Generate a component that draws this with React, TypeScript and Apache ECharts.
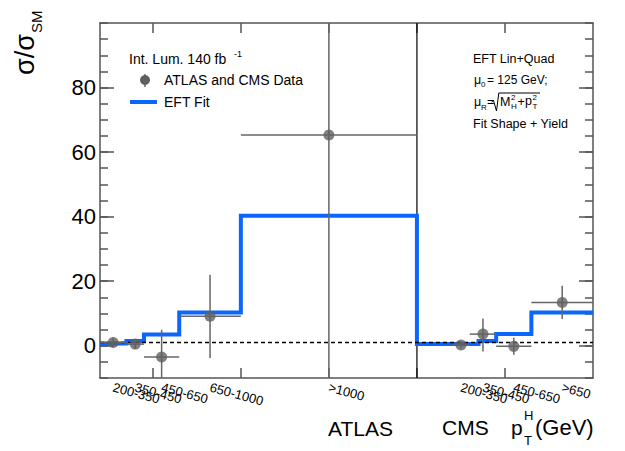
import React, { useEffect, useRef } from 'react';
import * as echarts from 'echarts';

const FONT = '"Liberation Sans", Arial, Helvetica, sans-serif';

// axis ranges
const X_MIN = 200;
const X_MAX = 3000;
const Y_MIN = -10;
const Y_MAX = 100;
const xTickValues = [500, 1000, 1500, 2000, 2500];
const yMajorTicks = [0, 20, 40, 60, 80];

// EFT fit (step histogram), ATLAS bins then CMS bins on a shared axis
const fitEdges = [200, 350, 450, 650, 1000, 2000, 2350, 2450, 2650, 3000];
const fitValues = [0.7, 1.5, 3.5, 10.3, 40.3, 0.5, 1.5, 3.6, 10.3];

// ATLAS data
const atlasLabels = ['200-350', '350-450', '450-650', '650-1000', '>1000'];
const atlasX = [275, 400, 550, 825, 1500];
const atlasXLo = [200, 350, 450, 650, 1000];
const atlasXHi = [350, 450, 650, 1000, 2000];
const atlasY = [1.0, 0.5, -3.5, 9.1, 65.3];
const atlasYLo = [-0.5, -1.0, -12, -3.8, -10];
const atlasYHi = [2.5, 2.0, 4.9, 22.0, 100];

// CMS data
const cmsLabels = ['200-350', '350-450', '450-650', '>650'];
const cmsX = [2250, 2375, 2550, 2825];
const cmsXLo = [2200, 2300, 2450, 2650];
const cmsXHi = [2300, 2450, 2650, 3000];
const cmsY = [0.2, 3.6, -0.2, 13.4];
const cmsYLo = [-0.8, -1.8, -2.8, 8.3];
const cmsYHi = [1.2, 8.4, 2.5, 18.6];

const smLevel = 1;
const dividerX = 2000;

const AXIS_COLOR = '#555';
const BLUE = '#0a66ff';
const GREY = '#606060';

function txt(text: string, x: number, y: number, size: number, extra: any = {}, styleExtra: any = {}) {
  return {
    type: 'text',
    x,
    y,
    silent: true,
    z: 100,
    ...extra,
    style: {
      text,
      fill: '#000',
      fontSize: size,
      fontFamily: FONT,
      align: 'left',
      verticalAlign: 'middle',
      textAlign: 'left',
      textVerticalAlign: 'middle',
      ...styleExtra,
    },
  };
}

export default function App() {
  const ref = useRef<HTMLDivElement>(null);

  useEffect(() => {
    if (!ref.current) return;
    const chart = echarts.init(ref.current, null, { renderer: 'svg' });

    const stepData: number[][] = [];
    for (let i = 0; i < fitValues.length; i++) {
      stepData.push([fitEdges[i], fitValues[i]]);
      stepData.push([fitEdges[i + 1], fitValues[i]]);
    }

    const errRows: number[][] = [];
    atlasX.forEach((x, i) => errRows.push([x, atlasY[i], atlasXLo[i], atlasXHi[i], atlasYLo[i], atlasYHi[i]]));
    cmsX.forEach((x, i) => errRows.push([x, cmsY[i], cmsXLo[i], cmsXHi[i], cmsYLo[i], cmsYHi[i]]));
    const points = errRows.map((r) => [r[0], r[1]]);

    const labelValues = [...atlasX, ...cmsX];
    const labelTexts = [...atlasLabels, ...cmsLabels];

    const lineStyle = { color: AXIS_COLOR, width: 1.5 };

    const baseX = {
      type: 'value',
      min: X_MIN,
      max: X_MAX,
      splitLine: { show: false },
      axisLine: { show: true, onZero: false, lineStyle },
      axisTick: { show: true, inside: true, length: 10, customValues: xTickValues, lineStyle },
    };
    const baseY = {
      type: 'value',
      min: Y_MIN,
      max: Y_MAX,
      splitLine: { show: false },
    };

    // one label-only axis per bin label, so that overlapping labels are all kept
    const labelAxes = labelValues.map((v, i) => ({
      type: 'value',
      min: X_MIN,
      max: X_MAX,
      position: 'bottom',
      splitLine: { show: false },
      axisLine: { show: false, onZero: false },
      axisTick: { show: false },
      axisLabel: {
        show: true,
        customValues: [v],
        formatter: () => labelTexts[i],
        rotate: -15,
        margin: 9,
        fontSize: 13,
        color: '#000',
        fontFamily: FONT,
        showMinLabel: true,
        showMaxLabel: true,
      },
    }));

    const option: any = {
      animation: false,
      textStyle: { fontFamily: FONT },
      grid: { left: 100, right: 32, top: 23, bottom: 73, containLabel: false, outerBoundsMode: 'none' },
      xAxis: [
        { ...baseX, position: 'bottom', axisLabel: { show: false } },
        { ...baseX, position: 'top', axisLabel: { show: false } },
        ...labelAxes,
      ],
      yAxis: [
        {
          ...baseY,
          position: 'left',
          interval: 5,
          axisLine: { show: true, onZero: false, lineStyle },
          axisTick: { show: true, inside: true, length: 8, lineStyle },
          axisLabel: { show: false },
        },
        {
          ...baseY,
          position: 'left',
          axisLine: { show: false, onZero: false },
          axisTick: { show: true, inside: true, length: 14, customValues: yMajorTicks, lineStyle },
          axisLabel: { show: true, customValues: yMajorTicks, fontSize: 22, margin: 4, color: '#000', fontFamily: FONT },
        },
        {
          ...baseY,
          position: 'right',
          interval: 5,
          axisLine: { show: true, onZero: false, lineStyle },
          axisTick: { show: true, inside: true, length: 8, lineStyle },
          axisLabel: { show: false },
        },
        {
          ...baseY,
          position: 'right',
          axisLine: { show: false, onZero: false },
          axisTick: { show: true, inside: true, length: 14, customValues: yMajorTicks, lineStyle },
          axisLabel: { show: false },
        },
      ],
      series: [
        {
          type: 'line',
          silent: true,
          data: [[dividerX, Y_MIN], [dividerX, Y_MAX]],
          symbol: 'none',
          lineStyle: { color: '#000', width: 1.2 },
          z: 1,
        },
        {
          type: 'line',
          silent: true,
          data: stepData,
          symbol: 'none',
          lineStyle: { color: BLUE, width: 4, cap: 'butt', join: 'miter' },
          z: 2,
        },
        {
          type: 'line',
          silent: true,
          data: [[X_MIN, smLevel], [X_MAX, smLevel]],
          symbol: 'none',
          lineStyle: { color: '#000', width: 1.5, type: [4, 3] },
          z: 3,
        },
        {
          type: 'custom',
          silent: true,
          clip: true,
          data: errRows,
          encode: { x: 0, y: 1 },
          z: 4,
          renderItem: (params: any, api: any) => {
            const x = api.value(0);
            const y = api.value(1);
            const a = api.coord([api.value(2), y]);
            const b = api.coord([api.value(3), y]);
            const c = api.coord([x, api.value(4)]);
            const d = api.coord([x, api.value(5)]);
            const st = { stroke: '#666', lineWidth: 1.5 };
            return {
              type: 'group',
              children: [
                { type: 'line', shape: { x1: a[0], y1: a[1], x2: b[0], y2: b[1] }, style: st },
                { type: 'line', shape: { x1: c[0], y1: c[1], x2: d[0], y2: d[1] }, style: st },
              ],
            };
          },
        },
        {
          type: 'scatter',
          silent: true,
          data: points,
          symbol: 'circle',
          symbolSize: 11,
          itemStyle: { color: GREY },
          z: 5,
        },
      ],
      graphic: [
        // y-axis title
        txt('σ/σ', 25, 75, 27, { rotation: Math.PI / 2 }),
        txt('SM', 36, 33, 15, { rotation: Math.PI / 2 }),
        // legend
        txt('Int. Lum. 140 fb', 129, 59, 14),
        txt('-1', 234, 54, 9),
        { type: 'line', silent: true, shape: { x1: 145, y1: 74, x2: 145, y2: 87 }, style: { stroke: '#666', lineWidth: 1.5 } },
        { type: 'circle', silent: true, shape: { cx: 145, cy: 80, r: 5 }, style: { fill: GREY } },
        txt('ATLAS and CMS Data', 164, 80, 14),
        { type: 'line', silent: true, shape: { x1: 130, y1: 102, x2: 157, y2: 102 }, style: { stroke: BLUE, lineWidth: 4 } },
        txt('EFT Fit', 164, 102, 14),
        // top-right annotation
        txt('EFT Lin+Quad', 473, 59, 12.5),
        txt('μ', 474, 80, 12.5),
        txt('0', 481, 84.5, 8),
        txt('= 125 GeV;', 487, 80, 12),
        txt('μ', 474, 101.5, 12.5),
        txt('R', 481, 107, 8),
        txt('=', 487, 101.5, 12.5),
        {
          type: 'polyline',
          silent: true,
          shape: { points: [[491.5, 102], [493.5, 100.5], [496.5, 111], [498.8, 93], [540, 93]] },
          style: { stroke: '#000', lineWidth: 1, fill: 'none' },
        },
        txt('M', 500, 102, 12.5),
        txt('2', 511, 97.5, 8),
        txt('H', 511, 106.5, 8),
        txt('+', 517.5, 102, 12.5),
        txt('p', 525, 101, 12.5),
        txt('2', 532.5, 97.5, 8),
        txt('T', 532.5, 106.5, 8),
        txt('Fit Shape + Yield', 473, 124, 12.5),
        // x-axis titles
        txt('ATLAS', 328, 428, 21),
        txt('CMS', 442, 427, 21),
        txt('p', 511, 427, 21),
        txt('H', 524, 415, 13),
        txt('T', 524, 440, 13),
        txt('(GeV)', 535, 427, 22),
      ],
    };

    chart.setOption(option);
    return () => {
      chart.dispose();
    };
  }, []);

  return <div ref={ref} style={{ position: 'absolute', left: 0, top: 0, width: 625, height: 451 }} />;
}
